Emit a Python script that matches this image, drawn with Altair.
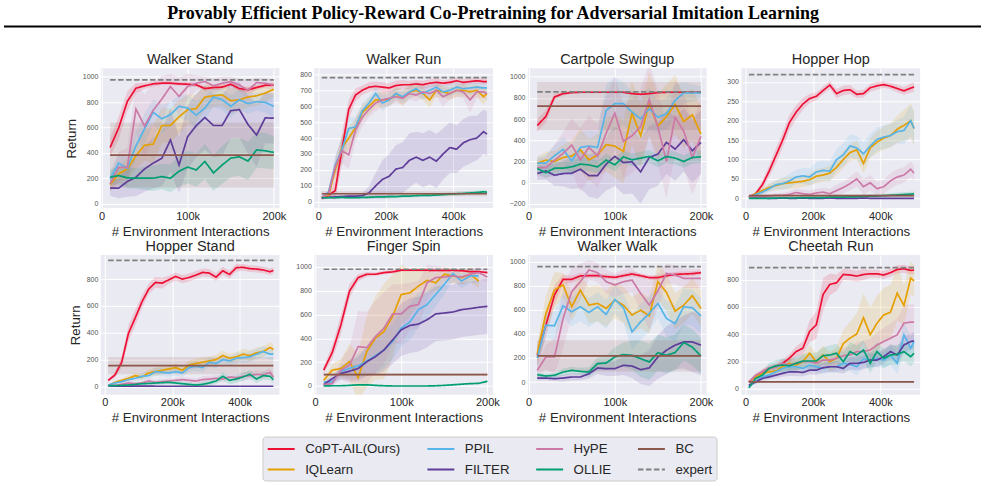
import altair as alt
import pandas as pd

FIG_TITLE = "Provably Efficient Policy-Reward Co-Pretraining for Adversarial Imitation Learning"

METHODS = ["CoPT-AIL(Ours)", "IQLearn", "PPIL", "FILTER", "HyPE", "OLLIE"]
LEGEND_ORDER = ["CoPT-AIL(Ours)", "IQLearn", "PPIL", "FILTER", "HyPE", "OLLIE", "BC", "expert"]
PALETTE = {
    "CoPT-AIL(Ours)": "#EE0F35",
    "IQLearn": "#E69F00",
    "PPIL": "#56B4E9",
    "FILTER": "#5E3C99",
    "HyPE": "#CC79A7",
    "OLLIE": "#009E73",
    "BC": "#8C564B",
    "expert": "#808080",
}

# evaluation checkpoints (environment interactions)
STEPS_200K = [10000, 20000, 30000, 40000, 50000, 60000, 70000, 80000, 90000, 100000,
              110000, 120000, 130000, 140000, 150000, 160000, 170000, 180000, 190000, 200000]
STEPS_500K = [10000, 30000, 50000, 70000, 90000, 110000, 130000, 150000, 170000, 190000,
              210000, 230000, 250000, 270000, 290000, 310000, 330000, 350000, 370000, 390000,
              410000, 430000, 450000, 470000, 490000, 500000]

# ---------------- Walker Stand ----------------
WS_MEAN = {
    "CoPT-AIL(Ours)": [442, 597, 805, 909, 927, 943, 948, 948, 943, 940, 935, 906, 914, 917, 940, 906, 896, 914, 932, 935],
    "IQLearn": [150, 234, 273, 377, 460, 468, 615, 615, 683, 740, 748, 839, 849, 857, 810, 818, 839, 849, 870, 901],
    "PPIL": [195, 319, 278, 455, 590, 719, 668, 701, 766, 753, 696, 753, 839, 818, 766, 818, 787, 803, 797, 766],
    "FILTER": [122, 122, 174, 208, 273, 319, 356, 501, 304, 527, 615, 678, 615, 615, 732, 740, 623, 540, 675, 673],
    "HyPE": [156, 286, 286, 745, 610, 735, 823, 922, 844, 922, 948, 961, 927, 948, 961, 935, 891, 953, 948, 935],
    "OLLIE": [208, 221, 203, 200, 200, 200, 213, 200, 255, 288, 265, 332, 242, 304, 358, 369, 335, 423, 416, 403],
}
WS_SPREAD = {
    "CoPT-AIL(Ours)": [70, 90, 80, 40, 25, 20, 15, 15, 15, 15, 15, 20, 20, 20, 15, 20, 25, 20, 15, 15],
    "IQLearn": [50, 60, 80, 100, 120, 150, 140, 130, 130, 120, 110, 100, 90, 90, 100, 90, 80, 80, 70, 60],
    "PPIL": [50, 80, 90, 110, 120, 100, 110, 100, 90, 100, 110, 90, 80, 80, 90, 80, 80, 70, 80, 90],
    "FILTER": [60, 80, 120, 150, 180, 200, 220, 250, 220, 250, 250, 250, 250, 240, 220, 220, 230, 250, 200, 200],
    "HyPE": [60, 120, 150, 200, 250, 220, 180, 100, 150, 100, 60, 40, 60, 50, 40, 50, 80, 40, 40, 40],
    "OLLIE": [60, 70, 80, 80, 90, 100, 100, 110, 120, 130, 130, 140, 140, 150, 150, 150, 150, 140, 140, 130],
}

# ---------------- Walker Run ----------------
WR_MEAN = {
    "CoPT-AIL(Ours)": [20, 40, 70, 330, 580, 670, 700, 720, 725, 720, 715, 730, 735, 735, 740, 735, 745, 750, 745, 750, 760, 750, 755, 760, 755, 755],
    "IQLearn": [25, 40, 200, 340, 400, 465, 560, 600, 640, 640, 640, 680, 650, 690, 700, 680, 640, 700, 690, 680, 700, 700, 690, 700, 660, 680],
    "PPIL": [25, 60, 230, 330, 460, 470, 570, 620, 680, 620, 640, 680, 660, 690, 710, 680, 700, 720, 690, 700, 720, 710, 715, 720, 715, 715],
    "FILTER": [25, 28, 30, 32, 35, 35, 38, 55, 100, 140, 160, 205, 215, 260, 280, 260, 280, 255, 300, 340, 330, 370, 390, 400, 440, 425],
    "HyPE": [30, 50, 220, 320, 295, 450, 530, 580, 620, 640, 650, 660, 650, 680, 670, 690, 680, 700, 660, 680, 700, 690, 640, 690, 690, 680],
    "OLLIE": [25, 25, 25, 27, 25, 25, 27, 28, 30, 30, 32, 32, 35, 35, 38, 40, 40, 42, 45, 48, 50, 52, 55, 58, 62, 60],
}
WR_SPREAD = {
    "CoPT-AIL(Ours)": [10, 15, 60, 100, 60, 40, 30, 30, 30, 30, 30, 30, 30, 25, 25, 25, 25, 25, 20, 20, 20, 20, 20, 20, 20, 20],
    "IQLearn": [10, 15, 60, 80, 70, 60, 50, 50, 50, 50, 40, 40, 50, 40, 40, 40, 50, 40, 40, 40, 40, 40, 40, 40, 50, 40],
    "PPIL": [10, 15, 60, 80, 70, 60, 50, 40, 40, 50, 40, 40, 40, 40, 40, 40, 40, 40, 40, 40, 40, 40, 40, 40, 40, 40],
    "FILTER": [10, 10, 10, 10, 10, 12, 15, 40, 80, 120, 140, 150, 160, 170, 160, 170, 170, 170, 160, 160, 150, 150, 150, 140, 140, 140],
    "HyPE": [10, 15, 60, 80, 90, 70, 60, 50, 50, 50, 50, 40, 40, 40, 40, 40, 40, 40, 60, 40, 40, 40, 80, 40, 40, 40],
    "OLLIE": [8, 8, 8, 8, 8, 8, 8, 8, 8, 8, 10, 10, 10, 10, 10, 10, 10, 10, 10, 12, 12, 12, 12, 12, 12, 12],
}

# ---------------- Cartpole Swingup ----------------
CS_MEAN = {
    "CoPT-AIL(Ours)": [540, 625, 810, 841, 851, 854, 854, 854, 854, 854, 854, 841, 835, 841, 851, 854, 854, 854, 854, 854],
    "IQLearn": [184, 213, 200, 238, 251, 311, 216, 260, 359, 346, 295, 657, 444, 746, 533, 625, 740, 578, 641, 460],
    "PPIL": [184, 184, 254, 314, 206, 333, 346, 333, 683, 746, 746, 667, 603, 698, 619, 651, 778, 848, 848, 848],
    "FILTER": [86, 111, 70, 86, 89, 127, 67, 67, 175, 248, 190, 197, 102, 238, 270, 381, 317, 406, 302, 381],
    "HyPE": [143, 143, 213, 276, 356, 216, 333, 254, 467, 657, 390, 444, 530, 787, 524, 200, 619, 486, 238, 438],
    "OLLIE": [133, 95, 137, 137, 149, 175, 168, 149, 213, 168, 244, 216, 232, 248, 206, 248, 232, 200, 238, 244],
}
CS_SPREAD = {
    "CoPT-AIL(Ours)": [60, 60, 30, 15, 10, 10, 10, 10, 10, 10, 10, 10, 10, 10, 10, 10, 10, 10, 10, 10],
    "IQLearn": [60, 80, 100, 120, 150, 200, 200, 200, 250, 300, 300, 300, 300, 300, 300, 300, 280, 250, 250, 250],
    "PPIL": [60, 80, 100, 120, 150, 150, 150, 150, 250, 250, 200, 200, 200, 200, 150, 150, 150, 100, 80, 60],
    "FILTER": [60, 80, 100, 120, 150, 180, 200, 220, 250, 280, 300, 300, 300, 300, 300, 300, 300, 300, 300, 300],
    "HyPE": [80, 100, 150, 200, 250, 300, 300, 300, 350, 350, 350, 350, 350, 350, 350, 350, 350, 350, 350, 350],
    "OLLIE": [50, 50, 60, 60, 60, 60, 60, 60, 60, 60, 60, 60, 60, 60, 60, 60, 60, 60, 60, 60],
}

# ---------------- Hopper Hop ----------------
HH_MEAN = {
    "CoPT-AIL(Ours)": [3, 12, 35, 70, 110, 150, 195, 222, 243, 257, 263, 278, 292, 270, 278, 280, 268, 270, 285, 290, 293, 289, 283, 277, 284, 287],
    "IQLearn": [2, 12, 20, 28, 33, 38, 40, 42, 44, 48, 57, 60, 65, 80, 100, 118, 125, 90, 130, 145, 155, 162, 178, 188, 200, 180],
    "PPIL": [2, 10, 16, 25, 35, 38, 45, 55, 58, 55, 68, 72, 70, 100, 112, 135, 130, 115, 135, 152, 158, 162, 172, 175, 200, 180],
    "FILTER": [1, 1, 1, 0, 0, 1, 0, 0, 1, 0, 0, 0, 1, 0, 0, 0, 0, 1, 0, 0, 0, 0, 0, 0, 0, 0],
    "HyPE": [3, 5, 5, 6, 8, 8, 10, 15, 12, 10, 14, 16, 12, 20, 28, 38, 50, 30, 40, 25, 30, 45, 55, 60, 75, 65],
    "OLLIE": [0, 0, 0, 0, 1, 1, 1, 1, 2, 2, 2, 2, 3, 3, 3, 4, 4, 5, 6, 6, 7, 8, 9, 10, 11, 12],
}
HH_SPREAD = {
    "CoPT-AIL(Ours)": [2, 5, 10, 15, 20, 20, 20, 18, 15, 12, 10, 10, 10, 12, 12, 12, 10, 10, 10, 10, 8, 8, 10, 10, 12, 12],
    "IQLearn": [2, 5, 8, 10, 12, 15, 15, 15, 15, 15, 18, 18, 20, 20, 22, 22, 25, 25, 25, 28, 30, 30, 35, 40, 45, 45],
    "PPIL": [2, 5, 8, 10, 12, 15, 18, 18, 20, 22, 25, 25, 25, 28, 30, 30, 30, 30, 30, 30, 30, 30, 30, 35, 40, 40],
    "FILTER": [1, 1, 1, 1, 1, 1, 1, 1, 1, 1, 1, 1, 1, 1, 1, 1, 1, 1, 1, 1, 1, 1, 1, 1, 1, 1],
    "HyPE": [2, 3, 4, 5, 6, 6, 8, 10, 10, 10, 10, 12, 12, 15, 15, 18, 20, 20, 20, 18, 18, 20, 20, 20, 20, 20],
    "OLLIE": [1, 1, 1, 1, 2, 2, 2, 2, 2, 3, 3, 3, 3, 4, 4, 4, 4, 5, 5, 5, 5, 5, 6, 6, 6, 6],
}

# ---------------- Hopper Stand ----------------
HS_MEAN = {
    "CoPT-AIL(Ours)": [45, 85, 180, 395, 510, 630, 725, 775, 770, 795, 820, 800, 812, 830, 850, 845, 815, 862, 835, 885, 888, 878, 875, 868, 855, 865],
    "IQLearn": [5, 30, 45, 60, 80, 70, 100, 110, 120, 130, 140, 120, 160, 170, 180, 190, 200, 230, 210, 220, 240, 230, 250, 260, 290, 275],
    "PPIL": [10, 25, 35, 50, 60, 75, 80, 110, 105, 100, 110, 100, 140, 150, 140, 180, 170, 200, 190, 210, 215, 220, 240, 260, 240, 240],
    "FILTER": [3, 2, 2, 2, 2, 2, 2, 1, 1, 1, 1, 1, 1, 1, 1, 1, 1, 1, 1, 1, 1, 1, 1, 1, 1, 1],
    "HyPE": [5, 8, 15, 25, 20, 25, 40, 30, 35, 40, 45, 50, 45, 40, 50, 55, 60, 55, 70, 65, 75, 80, 90, 85, 105, 70],
    "OLLIE": [5, 5, 8, 10, 15, 20, 22, 25, 28, 30, 25, 20, 15, 10, 15, 25, 40, 75, 45, 55, 70, 90, 55, 80, 75, 50],
}
HS_SPREAD = {
    "CoPT-AIL(Ours)": [10, 20, 40, 60, 60, 50, 40, 40, 40, 30, 30, 30, 30, 30, 30, 30, 30, 30, 30, 30, 25, 25, 25, 25, 25, 25],
    "IQLearn": [5, 10, 15, 20, 20, 25, 25, 30, 30, 30, 30, 30, 35, 35, 35, 35, 35, 35, 35, 35, 40, 40, 40, 40, 40, 40],
    "PPIL": [5, 10, 15, 20, 20, 25, 25, 30, 30, 30, 30, 30, 30, 35, 35, 35, 35, 35, 35, 40, 40, 40, 40, 40, 40, 40],
    "FILTER": [2, 2, 2, 2, 2, 2, 2, 2, 2, 2, 2, 2, 2, 2, 2, 2, 2, 2, 2, 2, 2, 2, 2, 2, 2, 2],
    "HyPE": [5, 8, 10, 15, 15, 15, 20, 20, 20, 20, 20, 20, 20, 20, 25, 25, 25, 25, 25, 25, 30, 30, 30, 30, 30, 30],
    "OLLIE": [5, 5, 8, 10, 12, 15, 15, 15, 15, 15, 15, 15, 15, 15, 20, 20, 25, 30, 30, 30, 30, 30, 30, 30, 30, 30],
}

# ---------------- Finger Spin (IQLearn / PPIL logged up to 190k) ----------------
FS_MEAN = {
    "CoPT-AIL(Ours)": [133, 282, 514, 797, 910, 938, 938, 952, 958, 972, 972, 972, 972, 970, 970, 972, 968, 960, 960, 952],
    "IQLearn": [48, 133, 147, 205, 70, 290, 401, 458, 585, 768, 782, 839, 887, 867, 938, 924, 910, 938, 881],
    "PPIL": [34, 34, 124, 147, 169, 209, 254, 302, 373, 486, 537, 641, 684, 768, 853, 944, 881, 924, 924],
    "FILTER": [11, 62, 105, 124, 147, 203, 246, 302, 387, 472, 508, 520, 556, 605, 613, 621, 641, 650, 661, 669],
    "HyPE": [11, 20, 133, 175, 331, 322, 415, 486, 605, 605, 669, 684, 867, 910, 915, 924, 915, 938, 952, 915],
    "OLLIE": [0, 2, 2, 5, 10, 10, 5, 2, 0, 0, 0, 0, 0, 2, 5, 10, 15, 20, 22, 40],
}
FS_SPREAD = {
    "CoPT-AIL(Ours)": [30, 60, 80, 60, 30, 20, 15, 15, 15, 10, 10, 10, 10, 10, 10, 10, 10, 10, 10, 10],
    "IQLearn": [30, 50, 80, 150, 200, 300, 350, 400, 350, 250, 200, 150, 100, 80, 60, 60, 60, 60, 60],
    "PPIL": [20, 30, 50, 80, 100, 120, 150, 150, 150, 150, 150, 150, 120, 100, 80, 60, 60, 60, 60],
    "FILTER": [10, 30, 50, 80, 100, 120, 150, 180, 200, 220, 230, 230, 230, 230, 230, 230, 230, 230, 230, 230],
    "HyPE": [10, 20, 80, 150, 300, 300, 300, 300, 250, 250, 200, 200, 150, 100, 80, 60, 60, 50, 50, 50],
    "OLLIE": [5, 5, 5, 5, 8, 8, 8, 5, 5, 5, 5, 5, 5, 5, 5, 5, 5, 5, 5, 8],
}

# ---------------- Walker Walk ----------------
WW_MEAN = {
    "CoPT-AIL(Ours)": [222, 472, 722, 853, 853, 881, 883, 883, 875, 869, 883, 897, 883, 867, 867, 883, 894, 897, 900, 908],
    "IQLearn": [236, 569, 764, 806, 625, 764, 639, 653, 611, 681, 639, 556, 597, 550, 833, 744, 589, 639, 717, 611],
    "PPIL": [200, 472, 467, 633, 583, 625, 578, 625, 561, 686, 617, 417, 500, 569, 653, 528, 486, 625, 617, 550],
    "FILTER": [33, 33, 28, 33, 42, 42, 69, 117, 111, 111, 139, 133, 103, 117, 208, 264, 306, 333, 333, 306],
    "HyPE": [97, 208, 208, 528, 750, 833, 931, 908, 833, 806, 833, 847, 736, 639, 756, 903, 889, 861, 861, 861],
    "OLLIE": [61, 50, 56, 83, 97, 89, 83, 153, 158, 208, 228, 222, 194, 167, 244, 222, 245, 328, 290, 215],
}
WW_SPREAD = {
    "CoPT-AIL(Ours)": [80, 100, 80, 40, 30, 25, 20, 20, 20, 20, 20, 20, 20, 20, 20, 20, 20, 20, 20, 20],
    "IQLearn": [80, 150, 150, 100, 120, 130, 150, 150, 150, 150, 150, 150, 150, 150, 150, 150, 150, 150, 150, 150],
    "PPIL": [80, 100, 120, 100, 120, 120, 120, 120, 120, 120, 120, 150, 150, 150, 120, 150, 150, 150, 150, 150],
    "FILTER": [20, 20, 20, 30, 30, 30, 40, 50, 60, 60, 80, 100, 120, 150, 180, 200, 200, 220, 250, 250],
    "HyPE": [50, 100, 150, 250, 200, 150, 80, 80, 100, 100, 100, 100, 150, 200, 150, 80, 80, 80, 80, 80],
    "OLLIE": [20, 20, 20, 30, 30, 30, 40, 50, 60, 80, 100, 120, 150, 150, 150, 150, 150, 150, 150, 150],
}

# ---------------- Cheetah Run ----------------
CR_MEAN = {
    "CoPT-AIL(Ours)": [49, 86, 123, 148, 160, 185, 222, 271, 296, 419, 468, 690, 764, 776, 837, 833, 825, 837, 842, 842, 833, 850, 874, 879, 867, 869],
    "IQLearn": [49, 86, 111, 123, 128, 160, 185, 172, 197, 259, 197, 246, 197, 222, 330, 370, 400, 520, 395, 480, 540, 560, 700, 610, 810, 790],
    "PPIL": [20, 49, 86, 99, 123, 148, 160, 160, 148, 172, 160, 148, 160, 160, 185, 177, 160, 217, 209, 222, 209, 246, 185, 394, 296, 345],
    "FILTER": [25, 49, 74, 86, 99, 111, 123, 123, 118, 135, 135, 153, 160, 160, 148, 185, 185, 192, 209, 209, 234, 271, 246, 320, 345, 350],
    "HyPE": [49, 99, 123, 148, 160, 185, 172, 185, 197, 197, 185, 209, 209, 222, 241, 246, 271, 271, 283, 320, 345, 369, 394, 480, 488, 488],
    "OLLIE": [5, 74, 99, 148, 167, 172, 167, 185, 202, 202, 202, 241, 246, 259, 197, 271, 246, 283, 185, 271, 222, 246, 251, 271, 234, 259],
}
CR_SPREAD = {
    "CoPT-AIL(Ours)": [10, 15, 20, 20, 20, 25, 30, 40, 50, 80, 100, 120, 80, 60, 40, 40, 40, 40, 30, 30, 30, 30, 30, 30, 30, 30],
    "IQLearn": [10, 15, 20, 20, 20, 30, 40, 40, 50, 60, 60, 70, 70, 80, 100, 120, 150, 180, 200, 200, 200, 200, 200, 150, 120, 120],
    "PPIL": [10, 15, 20, 25, 30, 35, 40, 40, 40, 40, 40, 40, 40, 40, 50, 50, 60, 60, 60, 60, 60, 70, 80, 100, 80, 80],
    "FILTER": [10, 15, 20, 20, 25, 25, 30, 30, 30, 30, 35, 35, 40, 40, 40, 45, 50, 50, 50, 50, 50, 55, 60, 60, 60, 60],
    "HyPE": [10, 15, 20, 25, 30, 35, 40, 40, 40, 40, 50, 50, 50, 50, 60, 60, 70, 80, 80, 90, 100, 110, 120, 130, 130, 130],
    "OLLIE": [10, 20, 30, 40, 40, 50, 50, 50, 50, 60, 60, 60, 70, 70, 70, 70, 70, 70, 70, 70, 70, 70, 70, 70, 70, 70],
}

# (name, steps, mean, spread, BC mean, BC spread, expert, y domain, y ticks)
TASKS = [
    ("Walker Stand", STEPS_200K, WS_MEAN, WS_SPREAD, 382, 255, 974, [-35, 1065], [0, 200, 400, 600, 800, 1000]),
    ("Walker Run", STEPS_500K, WR_MEAN, WR_SPREAD, 50, 15, 780, [-40, 838], [0, 100, 200, 300, 400, 500, 600, 700, 800]),
    ("Cartpole Swingup", STEPS_200K, CS_MEAN, CS_SPREAD, 724, 227, 857, [-240, 1080], [-200, 0, 200, 400, 600, 800, 1000]),
    ("Hopper Hop", STEPS_500K, HH_MEAN, HH_SPREAD, 7, 3, 319, [-25, 335], [0, 50, 100, 150, 200, 250, 300]),
    ("Hopper Stand", STEPS_500K, HS_MEAN, HS_SPREAD, 155, 65, 940, [-62, 980], [0, 200, 400, 600, 800]),
    ("Finger Spin", STEPS_200K, FS_MEAN, FS_SPREAD, 96, 10, 980, [-73, 1100], [0, 200, 400, 600, 800, 1000]),
    ("Walker Walk", STEPS_200K, WW_MEAN, WW_SPREAD, 217, 130, 958, [-105, 1055], [0, 200, 400, 600, 800, 1000]),
    ("Cheetah Run", STEPS_500K, CR_MEAN, CR_SPREAD, 49, 5, 887, [-45, 980], [0, 200, 400, 600, 800]),
]

PANEL_W, PANEL_H = 179, 140
FONT = "Liberation Sans"
INK = "#262626"

color_scale = alt.Scale(domain=LEGEND_ORDER, range=[PALETTE[k] for k in LEGEND_ORDER])
dash_scale = alt.Scale(domain=LEGEND_ORDER,
                       range=[[1, 0] if k != "expert" else [5.5, 2.5] for k in LEGEND_ORDER])

# legend swatch: a horizontal stroke twice as long as the nominal symbol size
legend = alt.Legend(
    title=None, orient="none", legendX=162, legendY=369, columns=4,
    symbolType="M-2,0H2", symbolSize=182, symbolStrokeWidth=2, symbolOffset=6.75,
    labelFont=FONT, labelFontSize=13.3, labelColor=INK, labelOffset=16, labelLimit=300,
    columnPadding=22, rowPadding=6, padding=4,
    fillColor="#EAEAF2", strokeColor="#CCCCCC", cornerRadius=3,
)


def make_panel(task, first_col, with_header):
    name, steps, mean, spread, bc, bc_sd, expert, ydom, yticks = task
    rows = []
    for m in METHODS:
        for s, v, d in zip(steps, mean[m], spread[m]):
            rows.append({"step": s, "method": m, "value": v, "lo": v - d, "hi": v + d})
    for s in (steps[0], steps[-1]):
        rows.append({"step": s, "method": "BC", "value": bc, "lo": bc - bc_sd, "hi": bc + bc_sd})
        rows.append({"step": s, "method": "expert", "value": expert, "lo": expert, "hi": expert})
    df = pd.DataFrame(rows)

    long_run = steps[-1] > 300000
    xdom = [-12000, 518000] if long_run else [-800, 206500]
    xticks = [0, 200000, 400000] if long_run else [0, 100000, 200000]

    x = alt.X("step:Q", scale=alt.Scale(domain=xdom, nice=False, zero=False),
              axis=alt.Axis(values=xticks, title="# Environment Interactions",
                            labelExpr="datum.value === 0 ? '0' : datum.value / 1000 + 'k'"))
    yaxis = alt.Axis(values=yticks, format="d", title="Return" if first_col else None)

    def y_enc(field):
        return alt.Y(field, scale=alt.Scale(domain=ydom, nice=False, zero=False), axis=yaxis)

    base = alt.Chart(df)
    layers = []
    # shaded spread around each curve and around the BC level
    for m in METHODS + ["BC"]:
        layers.append(
            base.transform_filter(alt.datum.method == m)
            .mark_area(opacity=0.15, color=PALETTE[m], clip=True)
            .encode(x=x, y=y_enc("lo:Q"), y2="hi:Q")
        )
    # mean curves, then baseline levels on top
    for m in METHODS + ["BC", "expert"]:
        layers.append(
            base.transform_filter(alt.datum.method == m)
            .mark_line(strokeWidth=1.7, clip=True)
            .encode(
                x=x, y=y_enc("value:Q"),
                color=alt.Color("method:N", scale=color_scale, legend=legend),
                strokeDash=alt.StrokeDash("method:N", scale=dash_scale, legend=legend),
            )
        )
    # panel heading drawn as text just above the plot area
    layers.append(
        alt.Chart(pd.DataFrame({"name": [name]}))
        .mark_text(font=FONT, fontSize=14.5, color=INK, align="center", baseline="alphabetic")
        .encode(x=alt.value(PANEL_W / 2), y=alt.value(-4), text="name:N")
    )
    if with_header:
        head = alt.Chart(pd.DataFrame({"t": [FIG_TITLE]}))
        layers.append(
            head.mark_text(font="Liberation Serif", fontWeight="bold", fontSize=18,
                           color="black", align="center", baseline="middle")
            .encode(x=alt.value(393), y=alt.value(-54), text="t:N")
        )
        layers.append(
            head.mark_rule(color="black", strokeWidth=2)
            .encode(x=alt.value(-97), x2=alt.value(882), y=alt.value(-42))
        )
    return alt.layer(*layers).properties(width=PANEL_W, height=PANEL_H)


panels = [make_panel(t, i % 4 == 0, i == 0) for i, t in enumerate(TASKS)]

chart = (
    alt.concat(*panels, columns=4, spacing={"row": 47, "column": 35}, bounds="flush")
    .properties(padding={"left": 3, "top": 5, "right": 3, "bottom": 3}, background="white")
    .configure_view(fill="#EAEAF2", stroke=None)
    .configure_axis(domain=False, ticks=False, grid=True, gridColor="white", gridWidth=1,
                    labelFont=FONT, titleFont=FONT, titleFontWeight="normal", titleColor=INK,
                    labelFlush=False, labelOverlap=False)
    .configure_axisX(labelFontSize=11, labelColor=INK, labelPadding=2, titleFontSize=13.3, titlePadding=3)
    .configure_axisY(labelFontSize=7, labelColor="#555555", labelPadding=3, titleFontSize=13.3, titlePadding=4)
)

chart.save("out.html", embed_options={"renderer": "svg", "actions": False})
